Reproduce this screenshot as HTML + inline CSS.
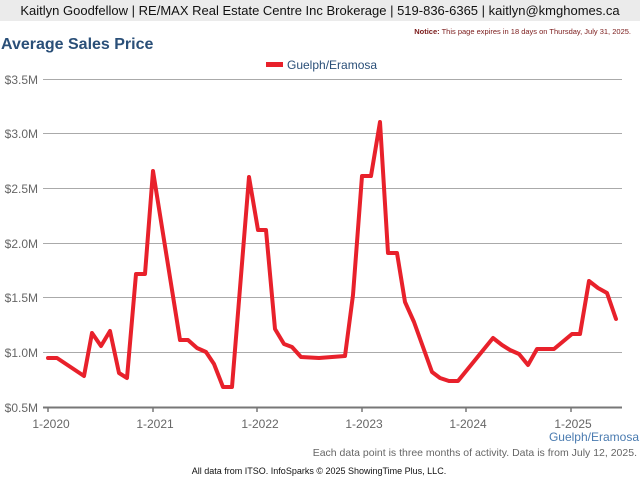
<!DOCTYPE html>
<html><head><style>
body{margin:0;width:640px;height:480px;background:#fff;font-family:"Liberation Sans",sans-serif;position:relative;overflow:hidden}
.hdr{position:absolute;left:0;top:0;width:640px;height:21px;background:#ebebeb;text-align:center;font-size:13px;line-height:22px;color:#111}
.t{position:absolute}
</style></head><body>
<div class="hdr">Kaitlyn Goodfellow | RE/MAX Real Estate Centre Inc Brokerage | 519-836-6365 | kaitlyn@kmghomes.ca</div>
<div class="t" style="right:9px;top:27px;font-size:7.5px;color:#7a1a1a"><b>Notice:</b> This page expires in 18 days on Thursday, July 31, 2025.</div>
<div class="t" style="left:1px;top:36px;font-size:16px;font-weight:bold;color:#2a4f78">Average Sales Price</div>
<svg width="640" height="480" style="position:absolute;left:0;top:0" font-family="Liberation Sans, sans-serif">
<rect x="266" y="62" width="17" height="5" fill="#e8212b"/>
<text x="287" y="69" font-size="12" fill="#2a4f78">Guelph/Eramosa</text>
<g stroke="#aaa" stroke-width="1">
<line x1="43" y1="79.5" x2="622" y2="79.5"/><line x1="43" y1="133.5" x2="622" y2="133.5"/><line x1="43" y1="188.5" x2="622" y2="188.5"/><line x1="43" y1="243.5" x2="622" y2="243.5"/><line x1="43" y1="297.5" x2="622" y2="297.5"/><line x1="43" y1="352.5" x2="622" y2="352.5"/>
</g>
<line x1="43" y1="407.5" x2="622" y2="407.5" stroke="#777" stroke-width="2"/>
<g stroke="#777" stroke-width="1.5"><line x1="48" y1="407" x2="48" y2="412"/><line x1="153" y1="407" x2="153" y2="412"/><line x1="257" y1="407" x2="257" y2="412"/><line x1="362" y1="407" x2="362" y2="412"/><line x1="466" y1="407" x2="466" y2="412"/><line x1="571" y1="407" x2="571" y2="412"/></g>
<g font-size="12" fill="#666" text-anchor="end"><text x="38" y="84">$3.5M</text><text x="38" y="138">$3.0M</text><text x="38" y="193">$2.5M</text><text x="38" y="248">$2.0M</text><text x="38" y="302">$1.5M</text><text x="38" y="357">$1.0M</text><text x="38" y="412">$0.5M</text></g>
<g font-size="12" fill="#666" text-anchor="middle"><text x="51" y="428">1-2020</text><text x="155" y="428">1-2021</text><text x="260" y="428">1-2022</text><text x="364" y="428">1-2023</text><text x="468" y="428">1-2024</text><text x="573" y="428">1-2025</text></g>
<text x="639" y="441" font-size="12" fill="#4a7bb0" text-anchor="end">Guelph/Eramosa</text>
<text x="637" y="456" font-size="10.5" fill="#666" text-anchor="end">Each data point is three months of activity. Data is from July 12, 2025.</text>
<text x="319" y="474" font-size="9" fill="#111" text-anchor="middle">All data from ITSO. InfoSparks © 2025 ShowingTime Plus, LLC.</text>
<polyline fill="none" stroke="#e8212b" stroke-width="4" stroke-linejoin="round" stroke-linecap="round" points="48,358 57,358 84,376 92,333 101,346 110,331 119,373 127,378 136,274 145,274 153,171 180,340 188,340 197,348 206,352 214,364 223,387 232,387 249,177 258,230 266,230 275,329 284,344 292,347 301,357 319,358 345,356 353,295 362,176 371,176 380,122 388,253 397,253 405,302 414,322 432,372 440,378 449,381 458,381 493,338 502,345 510,350 519,354 528,365 537,349 554,349 572,334 580,334 589,281 598,288 607,293 616,319"/>
</svg>
</body></html>
